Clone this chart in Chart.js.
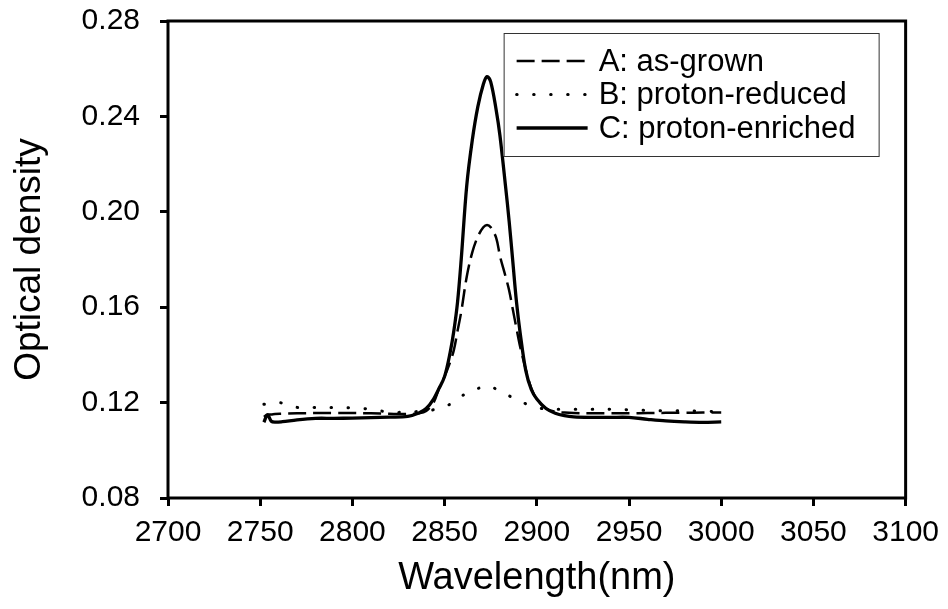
<!DOCTYPE html>
<html>
<head>
<meta charset="utf-8">
<script src="https://cdn.jsdelivr.net/npm/chart.js@4.4.0/dist/chart.umd.min.js"></script>
<style>
  body { margin: 0; background: #fff; }
</style>
</head>
<body>
<canvas id="myChart" width="948" height="609"></canvas>
<script>
// wavelength grid (nm) shared by the three spectra
const wavelength = [2752, 2754, 2756, 2758, 2762, 2770, 2780, 2790, 2800, 2810,
  2820, 2830, 2836, 2840, 2844, 2847, 2850, 2853, 2855, 2857,
  2859, 2862, 2865, 2868, 2871, 2873, 2875, 2878, 2880, 2883,
  2885, 2887, 2889, 2891, 2894, 2897, 2900, 2905, 2910, 2915,
  2920, 2930, 2940, 2950, 2960, 2970, 2980, 2990, 3000];

const asGrown = [0.1140, 0.1150, 0.1150, 0.1152, 0.1153, 0.1155, 0.1156, 0.1156, 0.1156, 0.1155,
  0.1153, 0.1152, 0.1155, 0.1165, 0.1200, 0.1260, 0.1310, 0.1370, 0.1420, 0.1500,
  0.1580, 0.1728, 0.1830, 0.1896, 0.1935, 0.1945, 0.1935, 0.1890, 0.1815, 0.1730,
  0.1670, 0.1590, 0.1510, 0.1433, 0.1340, 0.1260, 0.1215, 0.1175, 0.1162, 0.1158,
  0.1156, 0.1155, 0.1155, 0.1155, 0.1156, 0.1157, 0.1157, 0.1158, 0.1158];

const protonReduced = [0.1193, 0.1196, 0.1198, 0.1200, 0.1198, 0.1180, 0.1179, 0.1179, 0.1178, 0.1172,
  0.1160, 0.1160, 0.1163, 0.1166, 0.1170, 0.1176, 0.1185, 0.1193, 0.1205, 0.1215,
  0.1226, 0.1240, 0.1250, 0.1259, 0.1266, 0.1270, 0.1268, 0.1256, 0.1247, 0.1236,
  0.1228, 0.1221, 0.1214, 0.1206, 0.1195, 0.1186, 0.1180, 0.1172, 0.1172, 0.1172,
  0.1172, 0.1172, 0.1172, 0.1170, 0.1167, 0.1166, 0.1166, 0.1164, 0.1162];

const protonEnriched = [0.1118, 0.1148, 0.1122, 0.1118, 0.1120, 0.1128, 0.1134, 0.1134, 0.1135, 0.1137,
  0.1139, 0.1142, 0.1156, 0.1175, 0.1215, 0.1260, 0.1310, 0.1410, 0.1500, 0.1620,
  0.1800, 0.2110, 0.2300, 0.2440, 0.2535, 0.2567, 0.2545, 0.2425, 0.2320, 0.2110,
  0.1960, 0.1790, 0.1620, 0.1490, 0.1335, 0.1255, 0.1215, 0.1175, 0.1155, 0.1145,
  0.1140, 0.1138, 0.1138, 0.1138, 0.1130, 0.1123, 0.1119, 0.1117, 0.1119];

const seriesLabels = ["A: as-grown", "B: proton-reduced", "C: proton-enriched"];
const xTicks = [2700, 2750, 2800, 2850, 2900, 2950, 3000, 3050, 3100];
const yTicks = [0.08, 0.12, 0.16, 0.20, 0.24, 0.28];

const toPoints = (vals) => vals.map((v, i) => ({ x: wavelength[i], y: v }));

const fontFamily = "'Liberation Sans', Arial, sans-serif";

// box round the plot area + legend drawn inside it
const frameAndLegend = {
  id: "frameAndLegend",
  afterDatasetsDraw(chart) {
    const { ctx, chartArea: a } = chart;
    ctx.save();
    ctx.strokeStyle = "#000";
    ctx.lineWidth = 3;
    ctx.strokeRect(a.left, a.top, a.right - a.left, a.bottom - a.top);

    const boxL = a.right - 402, boxT = a.top + 12, boxW = 375, boxH = 123;
    ctx.fillStyle = "#fff";
    ctx.fillRect(boxL, boxT, boxW, boxH);
    ctx.lineWidth = 1;
    ctx.strokeStyle = "#333";
    ctx.strokeRect(boxL + 0.5, boxT + 0.5, boxW, boxH);

    ctx.font = "31px " + fontFamily;
    ctx.textBaseline = "middle";
    ctx.fillStyle = "#000";
    chart.data.datasets.forEach((ds, i) => {
      const y = boxT + 28 + i * 33.5;
      ctx.beginPath();
      ctx.strokeStyle = "#000";
      ctx.lineWidth = ds.borderWidth;
      ctx.lineCap = ds.borderCapStyle || "butt";
      ctx.setLineDash(ds.borderDash || []);
      ctx.moveTo(boxL + 13, y);
      ctx.lineTo(boxL + 84, y);
      ctx.stroke();
      ctx.setLineDash([]);
      ctx.fillText(ds.label, boxL + 95, y + 1);
    });
    ctx.restore();
  },
};

const config = {
  type: "line",
  data: {
    datasets: [
      {
        label: seriesLabels[0],
        data: toPoints(asGrown),
        borderColor: "#000",
        borderWidth: 2.5,
        borderDash: [18, 7],
      },
      {
        label: seriesLabels[1],
        data: toPoints(protonReduced),
        borderColor: "#000",
        borderWidth: 3,
        borderDash: [0.5, 16.5],
        borderCapStyle: "round",
      },
      {
        label: seriesLabels[2],
        data: toPoints(protonEnriched),
        borderColor: "#000",
        borderWidth: 3.3,
      },
    ],
  },
  options: {
    responsive: false,
    animation: false,
    layout: { padding: { top: 21, right: 42, left: 0, bottom: 0 } },
    elements: {
      point: { radius: 0 },
      line: { tension: 0.35, fill: false },
    },
    plugins: {
      legend: { display: false },
      tooltip: { enabled: false },
    },
    scales: {
      x: {
        type: "linear",
        min: 2700,
        max: 3100,
        afterFit: (s) => { s.height = 111; },
        afterBuildTicks: (s) => { s.ticks = xTicks.map((v) => ({ value: v })); },
        border: { display: false },
        grid: { drawOnChartArea: false, drawTicks: true, tickLength: 8, lineWidth: 3, color: "#000" },
        ticks: {
          color: "#000",
          padding: 9,
          maxRotation: 0,
          font: { family: fontFamily, size: 30 },
          callback: (v) => v,
        },
        title: {
          display: true,
          text: "Wavelength(nm)",
          color: "#000",
          font: { family: fontFamily, size: 38 },
          padding: { top: 0, bottom: 8 },
        },
      },
      y: {
        min: 0.08,
        max: 0.28,
        afterFit: (s) => {
          s.width = 168;
          // don't let the label padding push the plot top down
          s.paddingTop = 0;
          s.paddingBottom = 0;
        },
        afterBuildTicks: (s) => { s.ticks = yTicks.map((v) => ({ value: v })); },
        border: { display: false },
        grid: { drawOnChartArea: false, drawTicks: true, tickLength: 8, lineWidth: 3, color: "#000" },
        ticks: {
          color: "#000",
          padding: 20,
          font: { family: fontFamily, size: 30 },
          callback: (v) => v.toFixed(2),
        },
        title: {
          display: true,
          text: "Optical density",
          color: "#000",
          font: { family: fontFamily, size: 37 },
          padding: { top: 8, bottom: 0 },
        },
      },
    },
  },
  plugins: [frameAndLegend],
};

const myChart = new Chart(document.getElementById("myChart"), config);
</script>
</body>
</html>
